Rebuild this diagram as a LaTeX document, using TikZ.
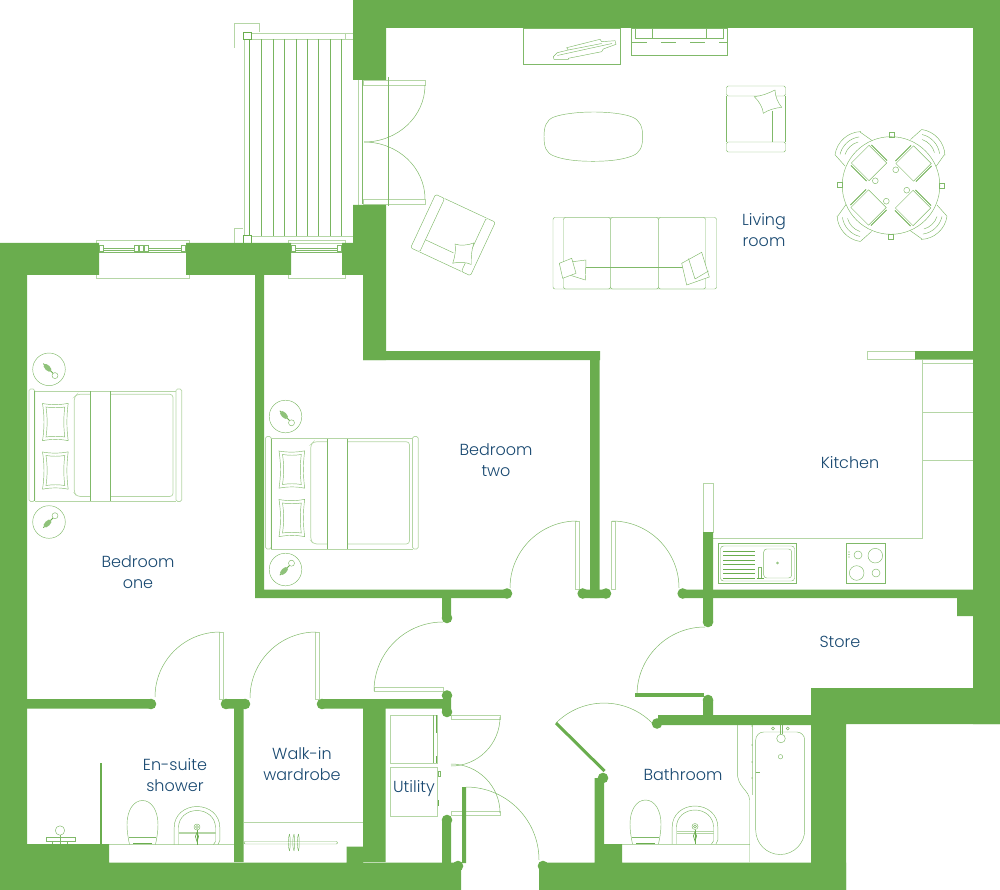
\documentclass[tikz,border=0pt]{standalone}
\usepackage{fontspec}
\usepackage{xcolor}
\newfontfamily\planfont{Poppins Light}
\definecolor{wallgreen}{RGB}{106,173,78}
\definecolor{labelblue}{RGB}{24,72,112}

% Furniture that repeats, drawn round a local origin
\newcommand{\armchair}{%
    \draw[furn, rounded corners=1.5pt] (-29.5,-33) rectangle (29.5,-23);
    \draw[furn, rounded corners=1.5pt] (-29.5,23) rectangle (29.5,33);
    \draw[furn] (-29.5,-23) -- (-29.5,23) (29.5,-23) -- (29.5,23) (16,-8) -- (16,23);
    \draw[furn, fill=white] (-1.7,-22.3) .. controls (6,-23) and (13,-26) .. (19,-29) .. controls (19,-23) and (22,-16) .. (25.7,-11.7) .. controls (19,-11) and (12,-9) .. (7.3,-5.7) .. controls (7,-11) and (3,-18) .. (-1.7,-22.3) -- cycle;
}
\newcommand{\bedlamp}{%
    \draw[furn] (0,0) circle (16.3);
    \draw[wallgreen, line width=0.8pt] (-5.7,-5.7) -- (4.5,4.5);
    \draw[furn, fill=white] (6,6.3) circle (3);
    \begin{scope}[shift={(-1.5,-1.5)}, rotate=-45]
        \fill[wallgreen!75] (0,0) ellipse (5 and 2.6);
    \end{scope}
}
\newcommand{\pillow}{%
    \draw[furn] (-13,-18.5) .. controls (-5,-17) and (5,-17) .. (12.7,-18.7) .. controls (11,-6) and (11,6) .. (12.7,18.7) .. controls (5,17) and (-5,17) .. (-13,18.7) .. controls (-11,6) and (-11,-6) .. (-13,-18.5) -- cycle;
    \draw[furn] (-9.5,-15) .. controls (-3,-14) and (3,-14) .. (9.3,-15) .. controls (8,-5) and (8,5) .. (9.3,15) .. controls (3,14) and (-3,14) .. (-9.5,15) .. controls (-8,5) and (-8,-5) .. (-9.5,-15) -- cycle;
}
\newcommand{\doublebed}{%
    \draw[furnpale, rounded corners=1.5pt] (0,0) rectangle (5.7,112.4);
    \draw[furnpale, rounded corners=1.5pt] (147,0) rectangle (152.7,112.4);
    \draw[furnpale] (5.7,2) -- (147,2) (5.7,112.4) -- (147,112.4);
    \draw[furn] (5.7,2) -- (5.7,112.4);
    \draw[furnpale, rounded corners=3pt] (61.7,5.3) -- (48,5.3) -- (45.3,8) -- (45.3,104) -- (48,107.4) -- (61.7,107.4);
    \draw[furnpale, rounded corners=3pt] (81.7,5.3) -- (144,5.3) -- (144,107.4) -- (81.7,107.4);
    \draw[furn] (61.7,2) -- (61.7,112.4) (81.7,2) -- (81.7,112.4);
    \begin{scope}[shift={(26.5,33)}] \pillow \end{scope}
    \begin{scope}[shift={(26.5,81.5)}] \pillow \end{scope}
}
\newcommand{\toiletpan}{%
    \draw[furn] (-13,0) .. controls (-14,-5) and (-15.5,-12) .. (-15.5,-20) .. controls (-15.5,-34) and (-9,-44) .. (0,-44) .. controls (9,-44) and (15.5,-34) .. (15.5,-20) .. controls (15.5,-12) and (14,-5) .. (13,0);
    \draw[furn] (-13.5,-7) -- (13.5,-7);
    \draw[wallgreen, line width=1pt] (-9.5,-0.7) -- (9.5,-0.7);
}
\newcommand{\washbasin}{%
    \draw[furn] (-22.8,0) -- (-22.8,-17) .. controls (-22.8,-30) and (-12,-38) .. (0,-38) .. controls (12,-38) and (22.8,-30) .. (22.8,-17) -- (22.8,-4) -- (21,0);
    \draw[furn] (-18.5,0) -- (-18.5,-17) .. controls (-18.5,-27) and (-10,-34) .. (0,-34) .. controls (10,-34) and (18.5,-27) .. (18.5,-17) -- (18.5,-3) -- (16.5,0);
    \draw[furnpale] (-18.5,-11) -- (18.5,-11) (-18.5,-12.5) -- (18.5,-12.5);
    \draw[furn, fill=white] (0,-17.5) circle (3);
    \draw[furn] (0,-17.5) circle (1.5);
    \draw[wallgreen, line width=0.7pt, fill=white] (0,-12) -- (-1.6,-8) -- (0,-3) -- (1.6,-8) -- cycle;
    \draw[wallgreen, line width=0.7pt] (0,-14.5) -- (0,0);
}

\begin{document}
\begin{tikzpicture}[x=1pt, y=-1pt,
    wall/.style={fill=wallgreen},
    furn/.style={draw=wallgreen!85, line width=0.45pt},
    furnpale/.style={draw=wallgreen!50, line width=0.7pt},
    swing/.style={draw=wallgreen!85, line width=0.5pt},
    roomlabel/.style={text=labelblue, font=\planfont\fontsize{16}{21}\selectfont, align=center, inner sep=0pt}]
    \useasboundingbox (0,0) rectangle (1000,890);

    % Balcony
    \draw[furnpale] (234.5,48) -- (234.5,23) -- (259,23) -- (259,32);
    \draw[furnpale] (234.5,243) -- (234.5,228) -- (243,228);
    \draw[furnpale] (244,39) -- (244,236) (251,33) rectangle (353,39) (251,236) rectangle (353,243);
    \draw[furnpale] (345,33) -- (345,39);
    \foreach \x in {261.7,273.3,284.3,296,307.3,318.7,330.3,341.7}
        \draw[draw=wallgreen!90, line width=0.6pt] (\x,39) -- (\x,236);
    \draw[wallgreen, line width=0.8pt] (249.5,39) -- (249.5,236);
    \draw[wallgreen, line width=0.9pt] (243,32) rectangle (251,39) (243,235) rectangle (251,243);

    % Patio doors
    \draw[furnpale] (358,79) -- (358,206) (353,79) -- (363,79) (353,206) -- (363,206);
    \draw[furn, line width=0.7pt] (362.5,80) -- (362.5,204);
    \draw[furnpale] (363,80) rectangle (425,85) (363,199) rectangle (425,204);
    \draw[furn] (388.5,77) -- (388.5,206);
    \draw[swing] (425,85) arc[start angle=0, end angle=90, x radius=61, y radius=57];
    \draw[swing] (425,199) arc[start angle=0, end angle=-90, x radius=61, y radius=57];

    % Windows
    \draw[furnpale] (96,240) rectangle (189,278) (288,240) rectangle (345,278);
    \draw[furn] (99,252.5) -- (186,252.5) (291,252.5) -- (342,252.5);
    \draw[furn] (103,248) -- (135,248) (103,250) -- (135,250) (146,248) -- (181,248) (146,250) -- (181,250) (295,248) -- (338,248) (295,250) -- (338,250);
    \foreach \x in {99,134,139,144,181,291,337}
        \draw[furn, fill=white] (\x,245) rectangle ++(4,6);

    % Living room furniture
    \begin{scope}[shift={(756,119)}] \armchair \end{scope}
    \begin{scope}[shift={(453,235)}, rotate=-115] \armchair \end{scope}
    \draw[furn] (593,112) .. controls (610,112) and (625,114) .. (632,117) .. controls (640,120) and (642.7,127) .. (642.7,136.5) .. controls (642.7,147) and (640,153) .. (632,156) .. controls (622,160) and (608,161.3) .. (593,161.3) .. controls (578,161.3) and (564,160) .. (554,156) .. controls (546,153) and (544,147) .. (544,136.5) .. controls (544,127) and (546,120) .. (554,117) .. controls (562,114) and (578,112) .. (593,112) -- cycle;
    \draw[furn] (523,28) rectangle (620.7,64.3);
    \draw[furn] (553.3,56.7) -- (557.3,52.7) -- (568.3,50) -- (566.7,47.7) -- (600,39.3) -- (601.7,41.7) -- (615,40.7) -- (616,44.3) -- (603.3,49) -- (601.7,51.7) -- (568.3,58.3) -- (568.3,59.3) -- (554,59.3) -- cycle;
    \draw[furn] (557.3,55.5) -- (612,43.5) (568.3,50) -- (601.7,43.5);
    \draw[furn] (631,28) rectangle (727,55.3);
    \draw[furn] (635,28) -- (635,38) -- (723,38) -- (723,28) (652,28) -- (652,38) (706,28) -- (706,38);
    \draw[furn, dash pattern=on 15pt off 14pt] (632,42.3) -- (727,42.3);

    % Sofa
    \draw[furn, rounded corners=2pt] (553,217.5) rectangle (716.5,289);
    \draw[furn, rounded corners=2pt] (563.5,217.5) rectangle (610.5,289);
    \draw[furn, rounded corners=2pt] (610.5,217.5) rectangle (658.5,289);
    \draw[furn, rounded corners=2pt] (658.5,217.5) rectangle (705.5,289);
    \draw[furn] (563.5,267.5) -- (705.5,267.5);
    \draw[furn, fill=white] (572.7,261.7) -- (586,260) -- (585.3,280) -- (571.7,275.7) -- cycle;
    \draw[furn, fill=white] (559.3,263.3) -- (571.7,258.3) -- (576,273.3) -- (562.7,278.3) -- cycle;
    \draw[furn, fill=white] (681.7,263.3) -- (701.7,252.3) -- (709.3,277) -- (686.7,285) -- cycle;
    \draw[furn] (688.5,258.5) -- (695,279) (695,279) -- (708.5,271);

    % Dining table and chairs
    \begin{scope}[shift={(891,185.5)}]
        \foreach \a in {0,-90,-180,-270} {
            \begin{scope}[rotate=\a]
                \draw[furn] (-56,-30.7) arc[start angle=188, end angle=268, radius=27];
                \draw[furn] (-51,-31) arc[start angle=193, end angle=262, radius=23];
                \draw[furn] (-46,-31) arc[start angle=198, end angle=255, radius=19];
                \draw[furn] (-56,-30.7) -- (-46,-19.5) (-31,-53.5) -- (-19,-45);
                \draw[furn] (-2,-53.5) rectangle (3,-48.5);
                \draw[furn] (4.7,-15.7) circle (2.9);
                \begin{scope}[shift={(-22,-22.5)}, rotate=45]
                    \draw[furn] (-12.5,-12.5) rectangle (12.5,12.5);
                    \draw[wallgreen, line width=0.9pt] (-14.5,-11) -- (-14.5,11) (14.5,-11) -- (14.5,11);
                \end{scope}
            \end{scope}
        }
        \draw[furn] (0,0) circle (48.8);
    \end{scope}

    % Beds
    \begin{scope}[shift={(29,389)}] \doublebed \end{scope}
    \begin{scope}[shift={(49,369.3)}] \bedlamp \end{scope}
    \begin{scope}[shift={(49,522)}, yscale=-1] \bedlamp \end{scope}
    \begin{scope}[shift={(265.5,436.5)}] \doublebed \end{scope}
    \begin{scope}[shift={(285.5,416.5)}] \bedlamp \end{scope}
    \begin{scope}[shift={(285.5,569.5)}, yscale=-1] \bedlamp \end{scope}

    % Kitchen
    \draw[furnpale] (713,538.3) -- (922,538.3) -- (922,360) (922,363.3) -- (973,363.3) (922,412) -- (973,412) (922,460.3) -- (973,460.3);
    \draw[furnpale] (867,351) rectangle (915,359);
    \draw[furnpale] (703,483) rectangle (713,532);
    \draw[furn] (718.3,543.3) rectangle (796.7,583.7);
    \draw[furn, rounded corners=3pt] (720.5,546) rectangle (794.5,581);
    \draw[furn, rounded corners=3pt] (763.7,549) rectangle (791.7,578);
    \draw[furn] (777.5,563) circle (1);
    \foreach \y in {551,555.5,560,564.5,569,573.5,578}
        \draw[wallgreen, line width=0.7pt] (723,\y) -- (755,\y);
    \draw[furn] (758.5,578) -- (758.5,567) -- (761,567) -- (761,578);
    \draw[wallgreen, line width=0.9pt] (756.5,578.5) -- (763.5,578.5);
    \draw[furn] (846,543.3) rectangle (885.7,583.7);
    \draw[furn] (858,555) circle (4) (875.3,555.7) circle (7.3) (856.7,573) circle (7.3) (876,573) circle (4);
    \foreach \y in {552,554.5,557}
        \fill[wallgreen] (849,\y) circle (0.7);

    % Utility
    \draw[furnpale] (390,715) rectangle (437,763) (390,767.7) rectangle (437,816.7);
    \draw[furn] (433,715) -- (433,763);
    \draw[wallgreen, line width=0.9pt] (436.5,715) -- (436.5,733) (436.5,756) -- (436.5,763) (438,800) -- (438,806);
    \draw[furn] (438,771) rectangle (440.5,776);

    % En-suite and wardrobe
    \draw[wallgreen, line width=1.2pt] (101,763) -- (101,844);
    \draw[furnpale] (94,844.5) -- (109,844.5) (109,844.5) -- (234,844.5);
    \begin{scope}[shift={(142.5,844.5)}] \toiletpan \end{scope}
    \begin{scope}[shift={(197,844.5)}] \washbasin \end{scope}
    \draw[furn, fill=white] (60,830.5) circle (4.7);
    \draw[furn] (60,835) -- (60,844) (46,837.7) rectangle (75,841);
    \draw[furn] (52,841) -- (52,844) (67,841) -- (67,844);
    \draw[furnpale] (244,822) -- (363,822);
    \draw[furn, rounded corners=1pt] (244,841.5) rectangle (337.5,844);
    \foreach \x in {289.5,294,298.5}
        \draw[furn] (\x,834) .. controls (\x-1.7,838) and (\x-1.7,847) .. (\x,851) (\x,834) .. controls (\x+1,838) and (\x+1,847) .. (\x,851);

    % Bathroom
    \draw[furnpale] (622,844) -- (749.5,844);
    \begin{scope}[shift={(645.5,844)}] \toiletpan \end{scope}
    \begin{scope}[shift={(695,844)}] \washbasin \end{scope}
    \draw[furn] (749.5,862) -- (749.5,800) .. controls (749.5,790) and (737.3,788) .. (737.3,772) -- (737.3,725);
    \draw[furnpale] (752,725) -- (752,795);
    \foreach \y in {726,745,762,778}
        \fill[wallgreen] (752,\y) circle (0.6);
    \draw[furn] (755.7,830) arc[start angle=180, end angle=0, radius=24.5] -- (804.7,740) arc[start angle=0, end angle=-90, radius=8] -- (763.7,732) arc[start angle=270, end angle=180, radius=8] -- cycle;
    \draw[furn] (755.7,772.5) -- (760,772.5);
    \draw[furn] (780,725) -- (780,733.5) (782,725) -- (782,733.5);
    \draw[furn] (781,738.5) circle (4.3) (780.5,756.7) circle (2.2) (773,728.5) circle (1.5) (787.7,728.5) circle (1.5);

    % Door leaves and swings
    \draw[furnpale] (219,632) rectangle (223,699) (315,632) rectangle (319,699);
    \draw[furnpale] (374,687) rectangle (443,691);
    \draw[furnpale] (575.5,521) rectangle (579.5,589) (611,521) rectangle (615,589);
    \draw[furnpale] (451,715) rectangle (500,719) (451,811.5) rectangle (500,815.5);
    \draw[swing] (220,632) arc[start angle=270, end angle=180, radius=65];
    \draw[swing] (316,632) arc[start angle=270, end angle=180, radius=66];
    \draw[swing] (443,622) arc[start angle=270, end angle=180, radius=69];
    \draw[swing] (577,521) arc[start angle=270, end angle=180, radius=67];
    \draw[swing] (612,521) arc[start angle=270, end angle=360, radius=67];
    \draw[swing] (705,627) arc[start angle=270, end angle=180, radius=68];
    \draw[swing] (500,717) arc[start angle=0, end angle=90, radius=49];
    \draw[swing] (500,813) arc[start angle=0, end angle=-90, radius=49];
    \draw[swing] (466,787) arc[start angle=270, end angle=360, radius=73];
    \draw[swing] (556,723) arc[start angle=225, end angle=315, radius=68];

    % Walls
    \fill[wall] (353,0) rectangle (1000,28) (353,0) rectangle (386,80) (973,0) rectangle (1000,724);
    \fill[wall] (353,205) rectangle (386,275) (342,243) rectangle (386,275) (363,275) rectangle (386,360);
    \fill[wall] (363,351) rectangle (600,360) (590,351) rectangle (599.5,598) (915,351) rectangle (973,359.5);
    \fill[wall] (0,243) rectangle (99,275) (186,243) rectangle (291,275) (0,243) rectangle (27,890);
    \fill[wall] (255,275) rectangle (264,598) (255,589.5) rectangle (507,598) (583,589.5) rectangle (606,598) (683,589.5) rectangle (973,598);
    \fill[wall] (703,532) rectangle (713,622) (957,598) rectangle (973,616) (442,598) rectangle (451,618);
    \fill[wall] (27,699) rectangle (151,708.5) (226,699) rectangle (245,708.5) (234,708) rectangle (243.7,862);
    \fill[wall] (322,699) rectangle (451,708.5) (363,699) rectangle (385.5,862) (442,699) rectangle (451,712);
    \fill[wall] (0,862.7) rectangle (461,890) (27,844) rectangle (109,863) (346.7,846.7) rectangle (363,863);
    \fill[wall] (442,820) rectangle (451,863) (462,787) rectangle (466,863);
    \fill[wall] (539,862.7) rectangle (846,890) (594.5,778) rectangle (604,863) (604,844) rectangle (622,863);
    \fill[wall] (811,688) rectangle (1000,724) (811,724) rectangle (846,890) (658,715) rectangle (811,725) (703,700) rectangle (713,715);
    \fill[wall] (635,692.5) rectangle (704,696.5);
    \draw[wallgreen, line width=3pt] (556,723) -- (604.5,771);
    \foreach \jx/\jy in {151/704,226/704,245/704,322/704,447/695.5,447/712,447/618,447/820,458/866,543/866,507/593.5,582.7/593.5,606/593.5,682.7/593.5,708/622,708/700,657/723.5,603/778}
        \fill[wall] (\jx,\jy) circle (5.3);

    % Room names
    \node[roomlabel] (living) at (764,230.5) {Living\\room};
    \node[roomlabel] (bedone) at (138,572) {Bedroom\\one};
    \node[roomlabel] (bedtwo) at (496,460.5) {Bedroom\\two};
    \node[roomlabel] (kitchen) at (850,463) {Kitchen};
    \node[roomlabel] (store) at (840,641.5) {Store};
    \node[roomlabel] (bathroom) at (683,775) {Bathroom};
    \node[roomlabel] (ensuite) at (175,775.5) {En-suite\\shower};
    \node[roomlabel] (wardrobe) at (302,764.5) {Walk-in\\wardrobe};
    \node[roomlabel] (utility) at (414,789) {Utility};
\end{tikzpicture}
\end{document}
